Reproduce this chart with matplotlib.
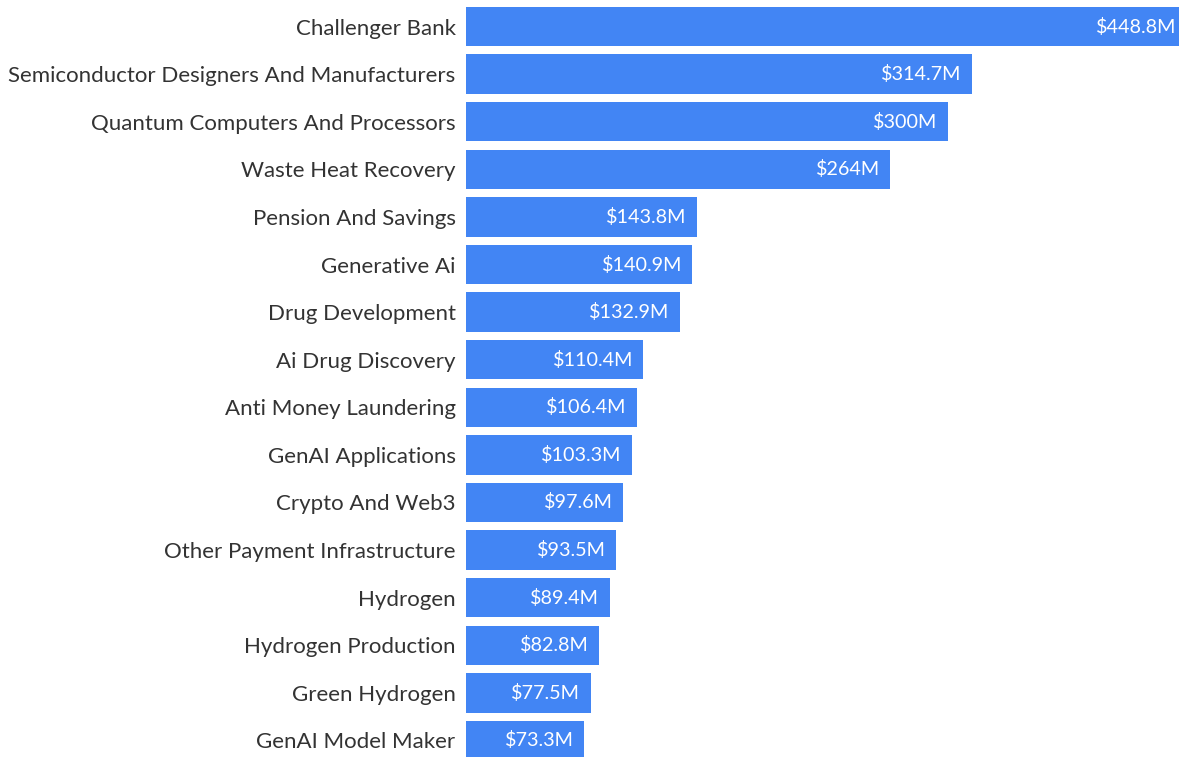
import matplotlib
matplotlib.use("Agg")
import matplotlib.pyplot as plt

categories = [
    "Challenger Bank",
    "Semiconductor Designers And Manufacturers",
    "Quantum Computers And Processors",
    "Waste Heat Recovery",
    "Pension And Savings",
    "Generative Ai",
    "Drug Development",
    "Ai Drug Discovery",
    "Anti Money Laundering",
    "GenAI Applications",
    "Crypto And Web3",
    "Other Payment Infrastructure",
    "Hydrogen",
    "Hydrogen Production",
    "Green Hydrogen",
    "GenAI Model Maker",
]
values = [448.8, 314.7, 300, 264, 143.8, 140.9, 132.9, 110.4, 106.4,
          103.3, 97.6, 93.5, 89.4, 82.8, 77.5, 73.3]
value_labels = ["$448.8M", "$314.7M", "$300M", "$264M", "$143.8M", "$140.9M",
                "$132.9M", "$110.4M", "$106.4M", "$103.3M", "$97.6M",
                "$93.5M", "$89.4M", "$82.8M", "$77.5M", "$73.3M"]

plt.rcParams["font.family"] = ["Lato", "DejaVu Sans"]

W, H = 1179, 757
fig = plt.figure(figsize=(W / 100, H / 100), dpi=100)
left_px = 466
ax = fig.add_axes([left_px / W, 0, 1 - left_px / W, 1])

bar_color = "#4285F4"
pos = list(range(len(categories)))
ax.barh(pos, values, height=0.83, color=bar_color, edgecolor="none")

ax.set_xlim(0, (W - left_px) / 1.607)
ax.set_ylim(15.347, -0.557)

for i, (v, lab) in enumerate(zip(values, value_labels)):
    ax.annotate(lab, xy=(v, i), xytext=(-7.5, 0), textcoords="offset points",
                ha="right", va="center", color="white", fontsize=14.2,
                annotation_clip=False)

ax.set_yticks(pos)
ax.set_yticklabels(categories, fontsize=16, color="#333333")
ax.tick_params(axis="y", length=0, pad=7.5)
ax.set_xticks([])
for s in ax.spines.values():
    s.set_visible(False)

fig.savefig("out.png", dpi=100)
